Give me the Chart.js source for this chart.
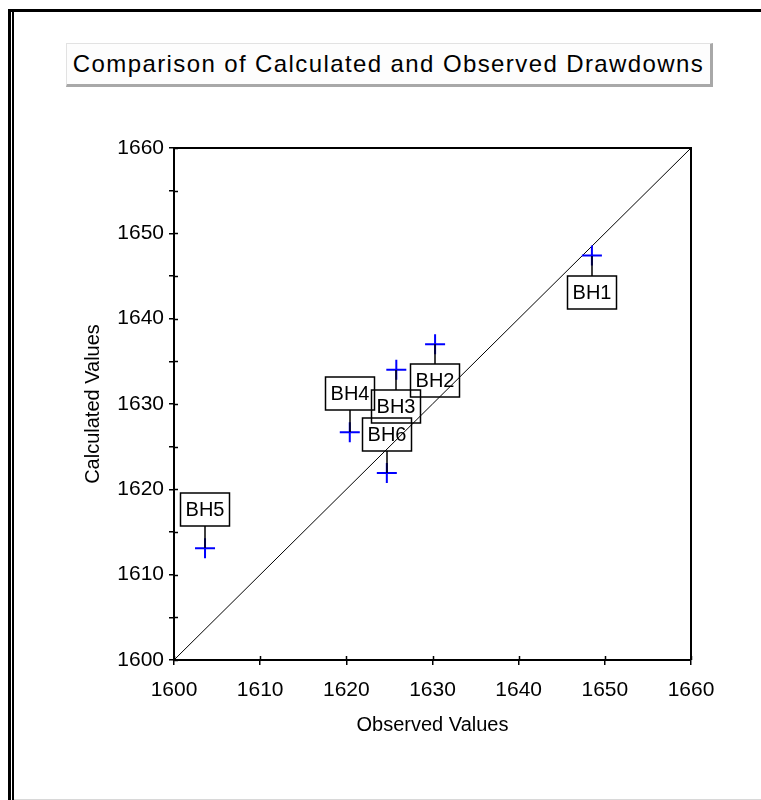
<!DOCTYPE html>
<html>
<head>
<meta charset="utf-8">
<script src="https://cdn.jsdelivr.net/npm/chart.js@4.4.1/dist/chart.umd.min.js"></script>
<style>
  body { margin: 0; background: #fff; }
  #wrap { position: relative; width: 761px; height: 800px; overflow: hidden; font-family: "Liberation Sans", Arial, sans-serif; }
  #frameOuter { position: absolute; left: 8px; top: 9px; right: -10px; bottom: -10px; border-top: 3px solid #000; border-left: 3px solid #000; }
  #frameInner { position: absolute; left: 12px; top: 12px; width: 2px; bottom: 0; background: #000; }
  #frameBottom { position: absolute; left: 14px; right: 0; bottom: 0; height: 1px; background: #d8d8d8; }
  #chartTitle {
    position: absolute; left: 66px; top: 43px; width: 643px; height: 40px;
    border-top: 1px solid #e2e2e2; border-left: 1px solid #e2e2e2;
    border-right: 3px solid #a8a8a8; border-bottom: 3px solid #a8a8a8;
    background: #fdfdfd; color: #000;
    font-size: 24px; letter-spacing: 1.4px; line-height: 40px; text-align: center; white-space: nowrap;
  }
  canvas { position: absolute; left: 0; top: 0; }
</style>
</head>
<body>
<div id="wrap">
  <div id="frameOuter"></div>
  <div id="frameInner"></div>
  <div id="frameBottom"></div>
  <canvas id="myChart" width="761" height="800"></canvas>
  <div id="chartTitle">Comparison of Calculated and Observed Drawdowns</div>
</div>
<script>
// well names and values
const wellNames = ['BH1', 'BH2', 'BH3', 'BH4', 'BH5', 'BH6'];
const observed = [1648.5, 1630.3, 1625.8, 1620.4, 1603.6, 1624.7];
const calculated = [1647.4, 1637.0, 1634.0, 1626.7, 1613.1, 1621.9];

// axis range, both axes the same
const axisMin = 1600;
const axisMax = 1660;

const ctx = document.getElementById('myChart');

// boxed labels with a short leader line to each point
const boxLabels = {
    id: 'boxLabels',
    afterDatasetsDraw(chart, args, opts) {
        const c = chart.ctx;
        const x = chart.scales.x;
        const y = chart.scales.y;
        c.save();
        c.strokeStyle = '#000';
        c.fillStyle = '#000';
        c.lineWidth = 1.5;
        c.font = '20px "Liberation Sans", Arial, sans-serif';
        c.textAlign = 'center';
        c.textBaseline = 'middle';
        wellNames.forEach((name, i) => {
            const px = Math.round(x.getPixelForValue(observed[i]));
            const py = Math.round(y.getPixelForValue(calculated[i]));
            const up = opts.above.includes(name);
            const top = up ? py - opts.gapAbove - opts.h : py + opts.gapBelow;
            c.beginPath();
            c.moveTo(px, py);
            c.lineTo(px, up ? top + opts.h : top);
            c.stroke();
            c.strokeRect(px - opts.w / 2, top, opts.w, opts.h);
            c.fillText(name, px, top + opts.h / 2 + 1);
        });
        c.restore();
    }
};

// closes the plot box and makes the ticks cross the axis lines
const plotFrame = {
    id: 'plotFrame',
    afterDraw(chart) {
        const c = chart.ctx;
        const a = chart.chartArea;
        const x = chart.scales.x;
        const y = chart.scales.y;
        c.save();
        c.strokeStyle = '#000';
        c.lineWidth = 2;
        c.beginPath();
        c.moveTo(a.left, a.top);
        c.lineTo(a.right, a.top);
        c.lineTo(a.right, a.bottom);
        c.stroke();
        c.lineWidth = 1.5;
        c.beginPath();
        x.ticks.forEach(t => {
            const px = Math.round(x.getPixelForValue(t.value)) + 0.5;
            c.moveTo(px, a.bottom);
            c.lineTo(px, a.bottom - 4);
        });
        y.ticks.forEach(t => {
            const py = Math.round(y.getPixelForValue(t.value)) + 0.5;
            c.moveTo(a.left, py);
            c.lineTo(a.left + 4, py);
        });
        c.stroke();
        c.restore();
    }
};

const tickFont = { family: '"Liberation Sans", Arial, sans-serif', size: 21 };
const titleFont = { family: '"Liberation Sans", Arial, sans-serif', size: 20 };

new Chart(ctx, {
    type: 'scatter',
    data: {
        datasets: [
            {
                label: 'Wells',
                data: observed.map((v, i) => ({ x: v, y: calculated[i] })),
                pointStyle: 'cross',
                pointRadius: 10,
                pointBorderWidth: 2,
                borderColor: '#0000ff',
                backgroundColor: '#0000ff',
                order: 1
            },
            {
                type: 'line',
                label: '1:1',
                data: [{ x: axisMin, y: axisMin }, { x: axisMax, y: axisMax }],
                borderColor: '#000',
                borderWidth: 1,
                pointRadius: 0,
                order: 2
            }
        ]
    },
    plugins: [boxLabels, plotFrame],
    options: {
        responsive: false,
        animation: false,
        layout: { padding: { left: 0, top: 148, right: 70, bottom: 0 } },
        plugins: {
            legend: { display: false },
            tooltip: { enabled: false },
            boxLabels: { above: ['BH4', 'BH5', 'BH6'], w: 49, h: 33, gapAbove: 22, gapBelow: 20 }
        },
        scales: {
            x: {
                type: 'linear',
                min: axisMin,
                max: axisMax,
                afterFit: (scale) => { scale.height = 140; },
                ticks: {
                    stepSize: 5,
                    color: '#000',
                    font: tickFont,
                    padding: 13,
                    maxRotation: 0,
                    callback: v => (v % 10 === 0 ? v : '')
                },
                grid: { drawOnChartArea: false, drawTicks: true, tickLength: 5, color: '#000', lineWidth: 1.5 },
                border: { color: '#000', width: 2 },
                title: { display: true, text: 'Observed Values', color: '#000', font: titleFont, padding: { top: 0, bottom: 63 } }
            },
            y: {
                type: 'linear',
                min: axisMin,
                max: axisMax,
                afterFit: (scale) => { scale.width = 174; },
                ticks: {
                    stepSize: 5,
                    color: '#000',
                    font: tickFont,
                    padding: 5,
                    callback: v => (v % 10 === 0 ? v : '')
                },
                grid: { drawOnChartArea: false, drawTicks: true, tickLength: 5, color: '#000', lineWidth: 1.5 },
                border: { color: '#000', width: 2 },
                title: { display: true, text: 'Calculated Values', color: '#000', font: titleFont, padding: { top: 81, bottom: 0 } }
            }
        }
    }
});
</script>
</body>
</html>
